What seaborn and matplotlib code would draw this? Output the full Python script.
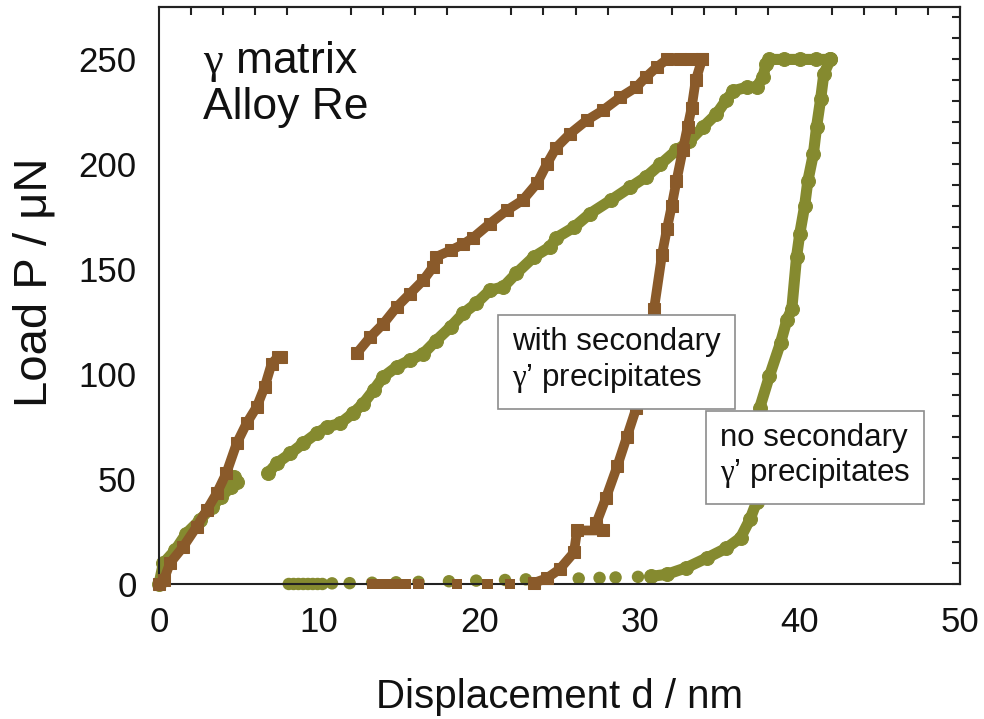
import matplotlib
matplotlib.use("Agg")
import numpy as np
import pandas as pd
import matplotlib.pyplot as plt
import seaborn as sns
from matplotlib.ticker import MultipleLocator

# with secondary gamma' precipitates (brown)
brown_load1_d = [0, 0.3, 0.69, 1.5, 2.35, 2.98, 3.6, 4.2, 4.85, 5.47, 6.1, 6.6, 7.03, 7.4, 7.6]
brown_load1_P = [0, 2, 10, 17.6, 27.3, 35.2, 43.2, 52.7, 67, 76.6, 84.4, 94, 105, 108, 108]

brown_load2_d = [12.34, 13.2, 14.0, 14.84, 15.67, 16.5, 17.1, 17.3, 18.2, 19.0, 19.6, 20.66,
                 21.7, 22.7, 23.6, 24.2, 24.8, 25.66, 26.7, 27.7, 28.8, 29.8, 30.4, 31.07,
                 31.7, 32.5, 33.2, 33.9]
brown_load2_P = [109.9, 117.8, 124, 132, 138.4, 144.8, 151, 155.9, 159, 162, 165, 171.8,
                 178, 182.9, 191, 200, 208, 214.6, 221, 225.7, 232, 236.8, 241.6, 246.3,
                 250, 250, 250, 250]

brown_unload_d = [33.9, 33.5, 33.25, 33.0, 32.7, 32.3, 32.0, 31.7, 31.4, 30.9, 29.8, 29.2,
                  28.6, 27.9, 27.3, 27.7, 26.1, 25.9, 25.0, 24.2, 23.4]
brown_unload_P = [250, 240, 227, 218, 207, 192, 180, 169, 157, 131, 84, 70,
                  56, 41, 29, 25.5, 25.5, 15, 7, 2.7, 0.5]

brown_zero_d = [13.3, 13.6, 13.9, 14.2, 14.5, 14.8, 15.1, 15.4, 16.2, 18.6, 20.5, 21.9]
brown_zero_P = [0, 0, 0, 0, 0, 0, 0, 0, 0, 0, 0, 0]

# no secondary gamma' precipitates (olive)
green_load1_d = [0, 0.27, 1.0, 1.7, 2.56, 3.3, 3.9, 4.5, 4.85, 4.7]
green_load1_P = [0, 9.8, 16, 24, 30.5, 36.8, 41.6, 46.3, 48.7, 51]

green_load2_d = [6.8, 7.35, 8.2, 9.0, 9.84, 10.5, 11.3, 12.1, 12.75, 13.4, 14.0, 14.84,
                 15.67, 16.5, 17.3, 18.2, 19.0, 19.8, 20.66, 21.5, 22.3, 23.4, 24.4, 24.8,
                 25.9, 26.9, 28.2, 29.4, 30.4, 31.3, 32.3, 33.1, 33.96, 34.8, 35.4, 35.85,
                 36.7, 37.3, 37.7, 37.9, 38.1, 39.0, 40.0, 41.0, 41.9]
green_load2_P = [52.7, 57.5, 62.2, 67, 71.8, 74.9, 76.5, 81.3, 86, 92.4, 98.7, 103.5,
                 106.7, 109.8, 116, 122.5, 129, 133.7, 140, 141.6, 148, 155.9, 160.6, 165,
                 170, 176.5, 182.9, 189, 194, 200, 206.7, 211, 217.8, 224, 230.5, 235,
                 236.8, 236.8, 241.6, 248, 250, 250, 250, 250, 250]

green_unload_d = [41.9, 41.5, 41.3, 41.05, 40.85, 40.5, 40.3, 40.0, 39.8, 39.5, 39.2, 38.8,
                  38.1, 37.5, 37.3, 36.9, 36.3, 35.4, 34.2, 32.9, 31.7, 30.7]
green_unload_P = [250, 243, 231, 218, 205, 192, 180, 167, 156, 131, 126, 115,
                  99, 84, 39, 31, 22, 17, 12.4, 7.7, 4.6, 3.6]

green_zero_d = [8.1, 8.4, 8.7, 9.0, 9.3, 9.6, 9.9, 10.2, 10.8, 11.9, 13.3, 14.8, 16.2,
                18.1, 19.8, 21.6, 22.9, 26.2, 27.5, 28.5, 29.9]
green_zero_P = [0, 0, 0, 0, 0, 0, 0, 0, 0.3, 0.4, 0.6, 0.8, 1.0,
                1.3, 1.6, 1.9, 2.2, 2.6, 2.9, 3.1, 3.4]

BROWN = "#8a5a2a"
GREEN = "#858a2f"
INK = "#111111"


def curve_frame(parts):
    frames = []
    for name, d, P in parts:
        frames.append(pd.DataFrame({"d": d, "P": P, "seg": name}))
    return pd.concat(frames, ignore_index=True)


brown_df = curve_frame([("load1", brown_load1_d, brown_load1_P),
                        ("load2", brown_load2_d, brown_load2_P),
                        ("unload", brown_unload_d, brown_unload_P)])
green_df = curve_frame([("load1", green_load1_d, green_load1_P),
                        ("load2", green_load2_d, green_load2_P),
                        ("unload", green_unload_d, green_unload_P)])

sns.set_style("white")
plt.rcParams["font.family"] = ["Liberation Sans", "DejaVu Sans"]
plt.rcParams["text.color"] = INK
plt.rcParams["axes.labelcolor"] = INK
plt.rcParams["mathtext.fontset"] = "custom"
plt.rcParams["mathtext.rm"] = "Liberation Serif"
plt.rcParams["mathtext.it"] = "Liberation Serif:italic"

fig = plt.figure(figsize=(9.84, 7.19), dpi=100)
ax = fig.add_axes([0.1616, 0.1878, 0.8140, 0.8025])

# olive first, brown on top
sns.scatterplot(x=green_zero_d, y=green_zero_P, color=GREEN, s=80, edgecolor="none",
                ax=ax, clip_on=False, zorder=2)
sns.lineplot(data=green_df, x="d", y="P", units="seg", estimator=None, sort=False,
             color=GREEN, lw=8, marker="o", ms=10, mec=GREEN, ax=ax,
             clip_on=False, zorder=2)
sns.scatterplot(x=brown_zero_d, y=brown_zero_P, color=BROWN, s=55, marker="s",
                edgecolor="none", ax=ax, clip_on=False, zorder=3)
sns.lineplot(data=brown_df, x="d", y="P", units="seg", estimator=None, sort=False,
             color=BROWN, lw=7, marker="s", ms=8.5, mec=BROWN, ax=ax,
             clip_on=False, zorder=3)

ax.set_xlim(0, 50)
ax.set_ylim(0, 275)
ax.xaxis.set_major_locator(MultipleLocator(10))
ax.xaxis.set_minor_locator(MultipleLocator(2))
ax.yaxis.set_major_locator(MultipleLocator(50))
ax.yaxis.set_minor_locator(MultipleLocator(10))

for side in ["left", "bottom", "top", "right"]:
    ax.spines[side].set_color("#222222")
    ax.spines[side].set_linewidth(1.5)

ax.tick_params(which="major", direction="inout", length=16, width=1.5,
               colors="#222222", labelsize=25, labelcolor=INK, pad=8)
ax.tick_params(axis="x", which="minor", direction="in", length=6, width=1.5, colors="#222222")
ax.tick_params(axis="y", which="minor", direction="inout", length=9, width=1.5, colors="#222222")

top = ax.secondary_xaxis("top")
top.xaxis.set_major_locator(MultipleLocator(10))
top.xaxis.set_minor_locator(MultipleLocator(2))
top.tick_params(which="major", length=0, labeltop=False)
top.tick_params(which="minor", direction="in", length=6, width=1.5, colors="#222222")
top.spines["top"].set_linewidth(1.5)
top.spines["top"].set_color("#222222")

right = ax.secondary_yaxis("right")
right.yaxis.set_major_locator(MultipleLocator(10))
right.tick_params(which="major", direction="in", length=6, width=1.5, colors="#222222",
                  labelright=False)
right.spines["right"].set_linewidth(1.5)
right.spines["right"].set_color("#222222")

ax.set_xlabel("Displacement d / nm", fontsize=29, labelpad=28)
ax.set_ylabel("Load P / μN", fontsize=34)
ax.yaxis.set_label_coords(-0.128, 0.523)

ax.text(0.055, 0.905, r"$\mathrm{\gamma}$ matrix", transform=ax.transAxes,
        fontsize=32, ha="left", va="center")
ax.text(0.055, 0.825, "Alloy Re", transform=ax.transAxes,
        fontsize=32, ha="left", va="center")

box = dict(boxstyle="square,pad=0.45", facecolor="white", edgecolor="#8c8c8c", lw=1.2)
ax.text(0.4407, 0.3865, "with secondary\n" + r"$\mathrm{\gamma}$’ precipitates",
        transform=ax.transAxes, fontsize=22.5, ha="left", va="center",
        linespacing=1.15, bbox=box, zorder=5)
ax.text(0.7004, 0.221, "no secondary\n" + r"$\mathrm{\gamma}$’ precipitates",
        transform=ax.transAxes, fontsize=22.5, ha="left", va="center",
        linespacing=1.15, bbox=box, zorder=5)

fig.savefig("out.png", dpi=100)
